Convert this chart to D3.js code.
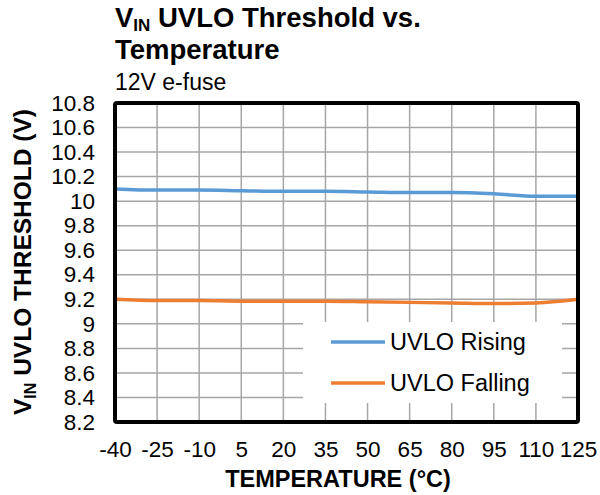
<!DOCTYPE html>
<html>
<head>
<meta charset="utf-8">
<script src="https://cdn.jsdelivr.net/npm/d3@7"></script>
<style>
  body { margin: 0; background: #fff; }
  svg { font-family: "Liberation Sans", Arial, sans-serif; }
</style>
</head>
<body>
<svg width="600" height="495"></svg>
<script>
const temps = [-40, -25, -10, 5, 20, 35, 50, 65, 80, 95, 110, 125]
const uvloRising = [10.10, 10.09, 10.09, 10.085, 10.08, 10.08, 10.075, 10.07, 10.07, 10.06, 10.04, 10.04]
const uvloFalling = [9.20, 9.19, 9.19, 9.185, 9.185, 9.185, 9.18, 9.175, 9.17, 9.165, 9.17, 9.20]
const yTicks = [8.2, 8.4, 8.6, 8.8, 9, 9.2, 9.4, 9.6, 9.8, 10, 10.2, 10.4, 10.6, 10.8]

const series = [
  { name: 'UVLO Rising', values: uvloRising, color: '#5b9bd5' },
  { name: 'UVLO Falling', values: uvloFalling, color: '#ed7d31' }
]

const svg = d3.select('svg')
const plot = { left: 115, right: 578, top: 103, bottom: 422 }

const x = d3.scalePoint()
  .domain(temps)
  .range([plot.left, plot.right])

const y = d3.scaleLinear()
  .domain([8.2, 10.8])
  .range([plot.bottom, plot.top])

// legend box area (gridlines are hidden behind it)
const legendBox = { x0: 303, x1: 562, y0: 322, y1: 403 }

const grid = svg.append('g').attr('class', 'grid')

// vertical gridlines
temps.slice(1, -1).forEach(t => {
  grid.append('line')
    .attr('x1', x(t)).attr('x2', x(t))
    .attr('y1', plot.top).attr('y2', plot.bottom)
    .attr('stroke', '#a6a6a6').attr('stroke-width', 1.5)
})

// horizontal gridlines
yTicks.slice(1, -1).forEach(v => {
  grid.append('line')
    .attr('x1', plot.left).attr('x2', plot.right)
    .attr('y1', y(v)).attr('y2', y(v))
    .attr('stroke', '#a6a6a6').attr('stroke-width', 1.5)
})

// lines
const line = d3.line()
  .x((d, i) => x(temps[i]))
  .y(d => y(d))
  .curve(d3.curveMonotoneX)

series.forEach(s => {
  svg.append('path')
    .datum(s.values)
    .attr('d', line)
    .attr('fill', 'none')
    .attr('stroke', s.color)
    .attr('stroke-width', 3.5)
})

// legend
const legend = svg.append('g').attr('class', 'legend')
legend.append('rect')
  .attr('x', legendBox.x0).attr('y', legendBox.y0)
  .attr('width', legendBox.x1 - legendBox.x0)
  .attr('height', legendBox.y1 - legendBox.y0)
  .attr('fill', '#fff')

series.forEach((s, i) => {
  const ly = 342 + i * 41
  legend.append('line')
    .attr('x1', 331).attr('x2', 385)
    .attr('y1', ly).attr('y2', ly)
    .attr('stroke', s.color).attr('stroke-width', 3.5)
  legend.append('text')
    .attr('x', 390).attr('y', ly)
    .attr('dy', '0.35em')
    .attr('font-size', 23.5)
    .text(s.name)
})

// plot border
svg.append('rect')
  .attr('x', plot.left).attr('y', plot.top)
  .attr('width', plot.right - plot.left)
  .attr('height', plot.bottom - plot.top)
  .attr('fill', 'none')
  .attr('stroke', '#000')
  .attr('stroke-width', 4)
  .attr('rx', 2)

// axes
const yAxis = d3.axisLeft(y)
  .tickValues(yTicks)
  .tickSize(0)
  .tickPadding(20)
  .tickFormat(d3.format('~g'))

svg.append('g')
  .attr('transform', `translate(${plot.left},0)`)
  .call(yAxis)
  .call(g => g.select('.domain').remove())
  .selectAll('text')
  .attr('font-size', 22.5)
  .attr('font-family', '"Liberation Sans", Arial, sans-serif')
  .attr('fill', '#000')

const xAxis = d3.axisBottom(x)
  .tickSize(0)
  .tickPadding(19)

svg.append('g')
  .attr('transform', `translate(0,${plot.bottom})`)
  .call(xAxis)
  .call(g => g.select('.domain').remove())
  .selectAll('text')
  .attr('font-size', 22.5)
  .attr('font-family', '"Liberation Sans", Arial, sans-serif')
  .attr('fill', '#000')

// axis titles
svg.append('text')
  .attr('x', 338).attr('y', 487)
  .attr('text-anchor', 'middle')
  .attr('font-size', 23.5).attr('font-weight', 'bold')
  .text('TEMPERATURE (°C)')

const yTitle = svg.append('text')
  .attr('transform', 'translate(31,262) rotate(-90)')
  .attr('text-anchor', 'middle')
  .attr('font-size', 24.5).attr('font-weight', 'bold')
yTitle.append('tspan').text('V')
yTitle.append('tspan').attr('font-size', 16).attr('dy', 5).text('IN')
yTitle.append('tspan').attr('dy', -5).text(' UVLO THRESHOLD (V)')

// title
const title = svg.append('text')
  .attr('x', 115).attr('y', 27)
  .attr('font-size', 27.5).attr('font-weight', 'bold')
title.append('tspan').text('V')
title.append('tspan').attr('font-size', 17).attr('dy', 3.5).text('IN')
title.append('tspan').attr('dy', -3.5).text(' UVLO Threshold vs.')

svg.append('text')
  .attr('x', 115).attr('y', 59)
  .attr('font-size', 27.5).attr('font-weight', 'bold')
  .text('Temperature')

svg.append('text')
  .attr('x', 115).attr('y', 90)
  .attr('font-size', 23)
  .text('12V e-fuse')
</script>
</body>
</html>
